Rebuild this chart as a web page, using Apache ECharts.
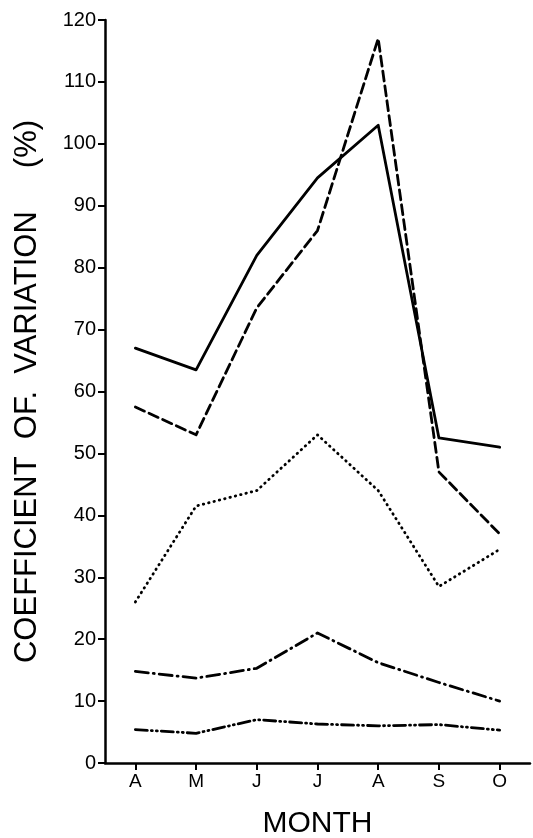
<!DOCTYPE html>
<html>
<head>
<meta charset="utf-8">
<script src="https://cdn.jsdelivr.net/npm/echarts@6/dist/echarts.min.js"></script>
<style>
html,body{margin:0;padding:0;background:#fff;}
#chart{width:533px;height:838px;}
</style>
</head>
<body>
<div id="chart"></div>
<script>
var months = ['A', 'M', 'J', 'J', 'A', 'S', 'O'];
var solidSeries = [67, 63.5, 82, 94.5, 103, 52.5, 51];
var dashedSeries = [57.5, 53, 73.5, 86, 117, 47, 37];
var dottedSeries = [26, 41.5, 44, 53, 44, 28.5, 34.5];
var dashDotSeries = [14.8, 13.7, 15.3, 21, 16.2, 13, 10];
var dashDotDotSeries = [5.4, 4.8, 7, 6.3, 6, 6.2, 5.3];
var yTicks = [0, 10, 20, 30, 40, 50, 60, 70, 80, 90, 100, 110, 120];

var FONT = '"Liberation Sans", Arial, sans-serif';
var chart = echarts.init(document.getElementById('chart'), null, {renderer: 'canvas'});

function lineSeries(data, dash, width) {
  return {
    type: 'line',
    data: data,
    symbol: 'none',
    silent: true,
    animation: false,
    lineStyle: {color: '#000', width: width, type: dash, cap: 'round', join: 'round'}
  };
}

chart.setOption({
  backgroundColor: '#fff',
  animation: false,
  grid: {left: 105, right: 3, top: 20, bottom: 75, containLabel: false, outerBoundsMode: 'none'},
  xAxis: {
    type: 'category',
    data: months,
    boundaryGap: true,
    name: 'MONTH',
    nameLocation: 'middle',
    nameGap: 46,
    nameTextStyle: {color: '#000', fontFamily: FONT, fontSize: 30, verticalAlign: 'top'},
    axisLine: {show: true, lineStyle: {color: '#000', width: 2.5}},
    axisTick: {show: true, alignWithLabel: true, length: 7, lineStyle: {color: '#000', width: 2}},
    axisLabel: {color: '#000', fontFamily: FONT, fontSize: 19, margin: 9},
    splitLine: {show: false}
  },
  yAxis: {
    type: 'value',
    min: yTicks[0],
    max: yTicks[yTicks.length - 1],
    interval: 10,
    name: 'COEFFICIENT  OF.  VARIATION     (%)',
    nameLocation: 'middle',
    nameGap: 62,
    nameTextStyle: {color: '#000', fontFamily: FONT, fontSize: 31},
    axisLine: {show: true, lineStyle: {color: '#000', width: 2.5}},
    axisTick: {show: true, length: 7, lineStyle: {color: '#000', width: 2}},
    axisLabel: {color: '#000', fontFamily: FONT, fontSize: 20, margin: 9},
    splitLine: {show: false}
  },
  series: [
    lineSeries(solidSeries, 'solid', 2.8),
    lineSeries(dashedSeries, [10, 5], 2.8),
    lineSeries(dottedSeries, [0.5, 5], 2.8),
    lineSeries(dashDotSeries, [13, 5, 1, 5], 2.8),
    lineSeries(dashDotDotSeries, [12, 4, 1, 4, 1, 4], 2.8)
  ]
});
</script>
</body>
</html>
